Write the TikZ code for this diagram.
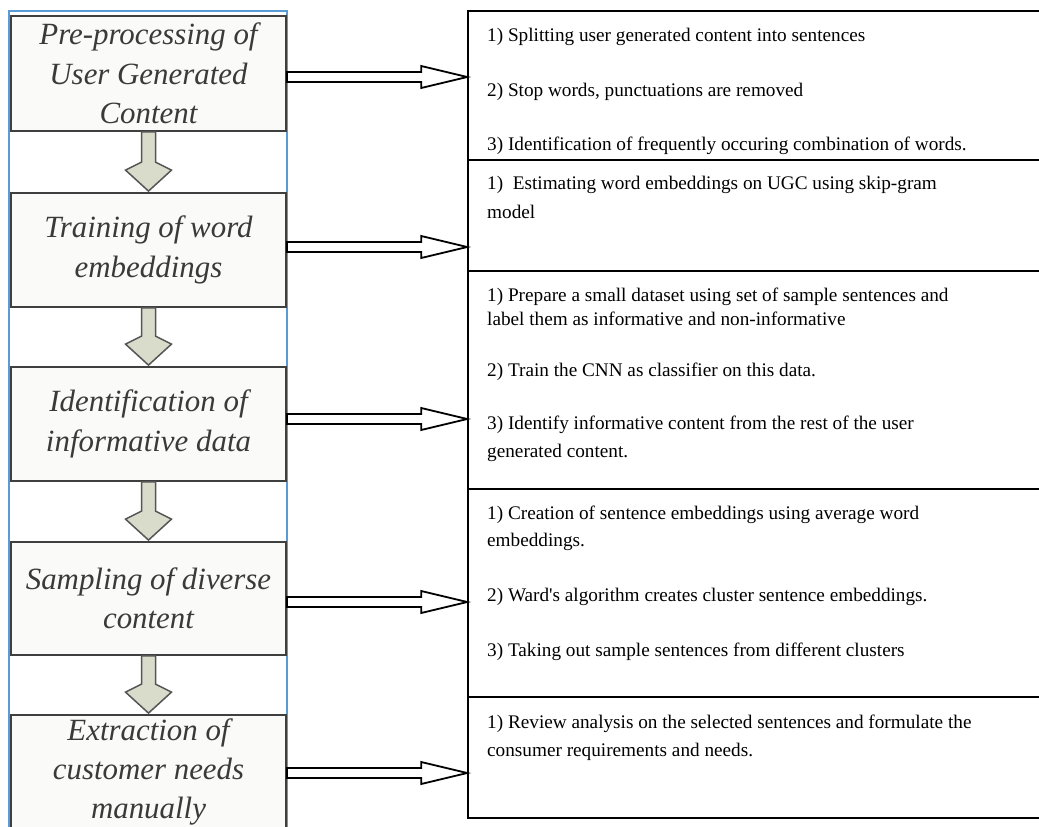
\documentclass[tikz,border=0pt]{standalone}
\usepackage{fontspec}
\setmainfont{Liberation Serif}
\newfontfamily\rfont{Liberation Serif}
\usetikzlibrary{calc}
\definecolor{frameblue}{HTML}{5B9BD5}
\definecolor{boxgrey}{HTML}{3F3F3F}
\definecolor{boxfill}{HTML}{FAFAF8}
\definecolor{txtgrey}{HTML}{3A3A3A}
\definecolor{arrfill}{HTML}{D9DCCB}
\definecolor{arrline}{HTML}{555555}
\newcommand\DownArr[2]{\draw[darrow] let \p1=(#1.south), \p2=(#2.north) in
  (\x1-7bp,\y1) -- (\x1+7bp,\y1) -- (\x1+7bp,\y2+30bp) -- (\x1+23bp,\y2+22bp)
  -- (\x1,\y2+1bp) -- (\x1-23bp,\y2+22bp) -- (\x1-7bp,\y2+30bp) -- cycle;}
\newcommand\RightArr[3]{\draw[harrow] let \p1=($(#1.east)+(0,#3)$), \p2=(#2.west) in
  (\x1,\y1+5bp) -- (\x2-46bp,\y1+5bp) -- (\x2-46bp,\y1+11bp) -- (\x2,\y1)
  -- (\x2-46bp,\y1-11bp) -- (\x2-46bp,\y1-5bp) -- (\x1,\y1-5bp) -- cycle;}
\begin{document}
\begin{tikzpicture}[x=1bp,y=-1bp,
  lbox/.style={draw=boxgrey, line width=1.8bp, fill=boxfill, minimum width=275bp, inner sep=0pt,
    align=center, text=txtgrey, font=\fontsize{31}{39.5}\selectfont\itshape},
  rbox/.style={draw=black, line width=1.6bp, minimum width=577bp, inner sep=0pt},
  rtxt/.style={anchor=base west, inner sep=0pt, font=\rfont\fontsize{19.3}{23}\selectfont},
  harrow/.style={draw=black, line width=1.8bp, fill=white, line join=miter},
  darrow/.style={draw=arrline, line width=1.5bp, fill=arrfill}]
\useasboundingbox (0,0) rectangle (1039,827);
\clip (0,0) rectangle (1039,827);
\fill[white] (0,0) rectangle (1039,827);
\draw[frameblue, line width=1.5bp] (9,11) rectangle (287,840);
% left boxes
\node[lbox, minimum height=115bp] (lb1) at (148.5,73.5) {Pre-processing of\\User Generated\\Content};
\node[lbox, minimum height=114bp] (lb2) at (148.5,250) {Training of word\\embeddings};
\node[lbox, minimum height=114bp] (lb3) at (148.5,424) {Identification of\\informative data};
\node[lbox, minimum height=113bp] (lb4) at (148.5,598.5) {Sampling of diverse\\content};
\node[lbox, minimum height=114bp] (lb5) at (148.5,772) {Extraction of\\customer needs\\manually};
% right boxes
\node[rbox, minimum height=149bp] (rb1) at (756.5,85.5) {};
\node[rbox, minimum height=111bp] (rb2) at (756.5,215.5) {};
\node[rbox, minimum height=218bp] (rb3) at (756.5,380) {};
\node[rbox, minimum height=208bp] (rb4) at (756.5,593) {};
\node[rbox, minimum height=121bp] (rb5) at (756.5,757.5) {};
% down arrows
\DownArr{lb1}{lb2}
\DownArr{lb2}{lb3}
\DownArr{lb3}{lb4}
\DownArr{lb4}{lb5}
% right arrows
\RightArr{lb1}{rb1}{3.5}
\RightArr{lb2}{rb2}{-3}
\RightArr{lb3}{rb3}{-5}
\RightArr{lb4}{rb4}{3.5}
\RightArr{lb5}{rb5}{1}
% right texts
\node[rtxt] (t1a) at (487,41) {1) Splitting user generated content into sentences};
\node[rtxt] (t1b) at (487,96.5) {2) Stop words, punctuations are removed};
\node[rtxt] (t1c) at (487,150.5) {3) Identification of frequently occuring combination of words.};
\node[rtxt] (t2a) at (487,189.5) {1)~~Estimating word embeddings on UGC using skip-gram};
\node[rtxt] (t2b) at (487,218.5) {model};
\node[rtxt] (t3a) at (487,301.5) {1) Prepare a small dataset using set of sample sentences and};
\node[rtxt] (t3b) at (487,325.5) {label them as informative and non-informative};
\node[rtxt] (t3c) at (487,376.5) {2) Train the CNN as classifier on this data.};
\node[rtxt] (t3d) at (487,429.5) {3) Identify informative content from the rest of the user};
\node[rtxt] (t3e) at (487,457.5) {generated content.};
\node[rtxt] (t4a) at (487,519.5) {1) Creation of sentence embeddings using average word};
\node[rtxt] (t4b) at (487,546.5) {embeddings.};
\node[rtxt] (t4c) at (487,601.5) {2) Ward's algorithm creates cluster sentence embeddings.};
\node[rtxt] (t4d) at (487,656.5) {3) Taking out sample sentences from different clusters};
\node[rtxt] (t5a) at (487,728.5) {1) Review analysis on the selected sentences and formulate the};
\node[rtxt] (t5b) at (487,756.5) {consumer requirements and needs.};
\end{tikzpicture}
\end{document}
